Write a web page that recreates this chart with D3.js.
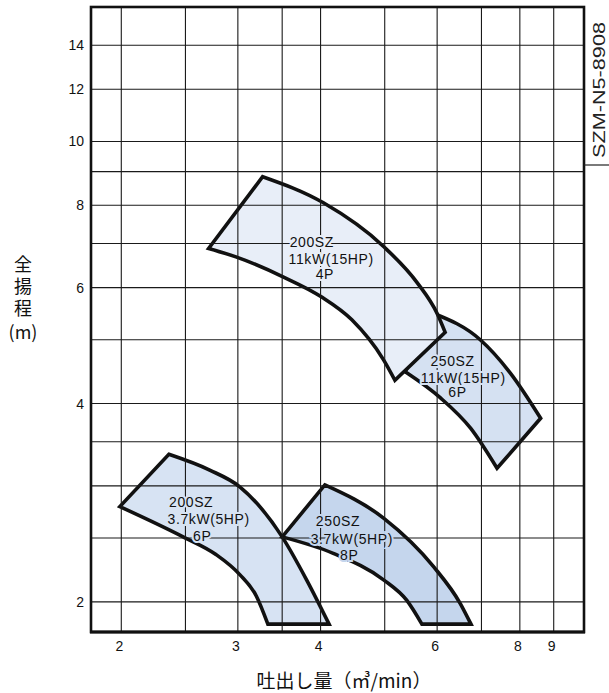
<!DOCTYPE html>
<html>
<head>
<meta charset="utf-8">
<script src="https://cdn.jsdelivr.net/npm/d3@7"></script>
<style>
  body { margin: 0; background: #fff; }
  svg { display: block; }
</style>
</head>
<body>
<svg id="chart" width="609" height="693"></svg>
<script>
// log-log grid of the selection chart
var qGrid = [2, 2.5, 3, 3.5, 4, 5, 6, 7, 8, 9];
var hGrid = [2, 2.5, 3, 3.5, 4, 5, 6, 7, 8, 9, 10, 12, 14];
var qTicks = [2, 3, 4, 6, 8, 9];
var hTicks = [2, 4, 6, 8, 10, 12, 14];

// each range: upper curve from its top corner, lower curve from its left corner, [Q m3/min, H m]
var sz200_11kW_top = [[3.27, 8.84], [4.04, 8.07], [4.97, 6.94], [5.60, 6.10], [6.00, 5.48], [6.17, 5.13]];
var sz200_11kW_bot = [[2.71, 6.88], [2.98, 6.68], [3.51, 6.23], [4.01, 5.81], [4.46, 5.36], [4.98, 4.66], [5.18, 4.34]];
var sz250_11kW_top = [[5.93, 5.48], [6.97, 5.00], [7.74, 4.45], [8.60, 3.80]];
var sz250_11kW_bot = [[5.37, 4.47], [6.07, 4.08], [6.74, 3.67], [7.39, 3.19]];
var sz200_37kW_top = [[2.36, 3.35], [2.72, 3.17], [3.02, 2.99], [3.50, 2.51], [3.81, 2.16], [4.12, 1.85]];
var sz200_37kW_bot = [[1.99, 2.79], [2.48, 2.51], [2.78, 2.36], [3.02, 2.20], [3.20, 2.04], [3.33, 1.85]];
var sz250_37kW_top = [[4.06, 3.01], [4.98, 2.68], [5.93, 2.26], [6.50, 1.99], [6.75, 1.85]];
var sz250_37kW_bot = [[3.50, 2.51], [4.18, 2.37], [4.98, 2.16], [5.40, 2.01], [5.69, 1.85]];

// label lines and where they sit, [text, Q, H]
var sz200_11kW_label = [["200SZ", 3.88, 7.04], ["11kW(15HP)", 4.15, 6.62], ["4P", 4.06, 6.29]];
var sz250_11kW_label = [["250SZ", 6.33, 4.64], ["11kW(15HP)", 6.57, 4.38], ["6P", 6.44, 4.16]];
var sz200_37kW_label = [["200SZ", 2.55, 2.84], ["3.7kW(5HP)", 2.71, 2.67], ["6P", 2.65, 2.52]];
var sz250_37kW_label = [["250SZ", 4.25, 2.65], ["3.7kW(5HP)", 4.46, 2.49], ["8P", 4.42, 2.36]];

var svg;

document.addEventListener('DOMContentLoaded', function () {
  svg = d3.select('#chart');
  drawChart();
});

function drawChart() {
  let x = d3.scaleLog().domain([1.8, 10]).range([91, 584]);
  let y = d3.scaleLog().domain([1.8, 16]).range([632, 7]);

  let line = d3.line()
    .x((d) => x(d[0]))
    .y((d) => y(d[1]))
    .curve(d3.curveMonotoneX);

  // drawing order matters: 250SZ 11kW sits under 200SZ 11kW
  let ranges = [
    { top: sz250_11kW_top, bot: sz250_11kW_bot, label: sz250_11kW_label, fill: "#d5e1f2" },
    { top: sz200_11kW_top, bot: sz200_11kW_bot, label: sz200_11kW_label, fill: "#e8eef8" },
    { top: sz200_37kW_top, bot: sz200_37kW_bot, label: sz200_37kW_label, fill: "#d7e3f3" },
    { top: sz250_37kW_top, bot: sz250_37kW_bot, label: sz250_37kW_label, fill: "#c5d6ed" }
  ];

  let shapes = svg.append("g");
  ranges.forEach(function (r) {
    let upper = line(r.top);
    let lower = line(r.bot.slice().reverse()).replace(/^M/, "L");
    shapes.append("path")
      .attr("d", upper + lower + "Z")
      .attr("fill", r.fill)
      .attr("stroke", "#111")
      .attr("stroke-width", 3.6)
      .attr("stroke-linejoin", "miter");
  });

  // grid on top of the fills
  let grid = svg.append("g").attr("stroke", "#1a1a1a").attr("stroke-width", 1.1);
  grid.selectAll(".vx")
    .data(qGrid)
    .enter()
    .append("line")
    .attr("x1", (d) => x(d)).attr("x2", (d) => x(d))
    .attr("y1", y(16)).attr("y2", y(1.8));
  grid.selectAll(".hy")
    .data(hGrid)
    .enter()
    .append("line")
    .attr("x1", x(1.8)).attr("x2", x(10))
    .attr("y1", (d) => y(d)).attr("y2", (d) => y(d));

  // frame
  svg.append("rect")
    .attr("x", x(1.8)).attr("y", y(16))
    .attr("width", x(10) - x(1.8)).attr("height", y(1.8) - y(16))
    .attr("fill", "none").attr("stroke", "#111").attr("stroke-width", 2.6);
  svg.append("line")
    .attr("x1", x(1.8) - 1).attr("x2", x(10) + 1)
    .attr("y1", y(1.8)).attr("y2", y(1.8))
    .attr("stroke", "#111").attr("stroke-width", 3.2);

  // drawing number box
  svg.append("line")
    .attr("x1", x(10)).attr("x2", 609)
    .attr("y1", 165).attr("y2", 165)
    .attr("stroke", "#222").attr("stroke-width", 1.2);
  svg.append("text")
    .attr("transform", "translate(605,90) rotate(-90)")
    .attr("text-anchor", "middle")
    .attr("font-family", "Liberation Sans, sans-serif")
    .attr("font-size", 17)
    .attr("textLength", 136)
    .attr("lengthAdjust", "spacingAndGlyphs")
    .attr("fill", "#222")
    .text("SZM-N5-8908");

  // labels inside the ranges
  ranges.forEach(function (r) {
    svg.append("g")
      .selectAll("text")
      .data(r.label)
      .enter()
      .append("text")
      .attr("x", (d) => x(d[1]))
      .attr("y", (d) => y(d[2]))
      .attr("dy", "0.36em")
      .attr("text-anchor", "middle")
      .attr("font-family", "Liberation Sans, sans-serif")
      .attr("font-size", 14)
      .attr("letter-spacing", 0.6)
      .attr("fill", "#111")
      .attr("stroke", r.fill)
      .attr("stroke-width", 4)
      .attr("paint-order", "stroke")
      .text((d) => d[0]);
  });

  // tick labels
  svg.append("g")
    .selectAll("text")
    .data(hTicks)
    .enter()
    .append("text")
    .attr("x", 84)
    .attr("y", (d) => y(d))
    .attr("dy", "0.36em")
    .attr("text-anchor", "end")
    .attr("font-family", "Liberation Sans, sans-serif")
    .attr("font-size", 14)
    .attr("fill", "#111")
    .text((d) => d);
  svg.append("g")
    .selectAll("text")
    .data(qTicks)
    .enter()
    .append("text")
    .attr("x", (d) => x(d) - 2)
    .attr("y", 651)
    .attr("text-anchor", "middle")
    .attr("font-family", "Liberation Sans, sans-serif")
    .attr("font-size", 14)
    .attr("fill", "#111")
    .text((d) => d);

  // axis titles: vertical one written top to bottom, unit below it
  svg.append("text")
    .attr("x", 23)
    .attr("y", 255)
    .attr("writing-mode", "vertical-rl")
    .attr("letter-spacing", 4)
    .attr("font-family", "Noto Sans CJK JP, sans-serif")
    .attr("font-size", 18)
    .attr("fill", "#111")
    .text("全揚程");
  svg.append("text")
    .attr("x", 23)
    .attr("y", 339)
    .attr("text-anchor", "middle")
    .attr("font-family", "Noto Sans CJK JP, sans-serif")
    .attr("font-size", 18)
    .attr("fill", "#111")
    .text("(m)");

  svg.append("text")
    .attr("x", 344)
    .attr("y", 688)
    .attr("text-anchor", "middle")
    .attr("font-family", "Noto Sans CJK JP, sans-serif")
    .attr("font-size", 19)
    .attr("fill", "#111")
    .text("吐出し量（㎥/min）");
}
</script>
</body>
</html>
